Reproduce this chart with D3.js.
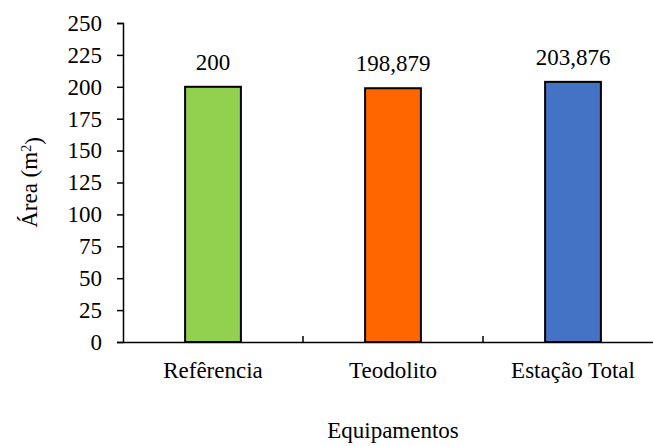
<!DOCTYPE html>
<html>
<head>
<meta charset="utf-8">
<script src="https://cdn.jsdelivr.net/npm/d3@7/dist/d3.min.js"></script>
</head>
<body style="margin:0">
<svg id="chart" width="653" height="446" font-family="Liberation Serif" font-size="23"></svg>
<script>
// Equipment categories and measured areas
const categories = ["Refêrencia", "Teodolito", "Estação Total"];
const areas = [200, 198.879, 203.876];
const areaLabels = ["200", "198,879", "203,876"];
const barColors = ["#92D050", "#FF6600", "#4472C4"];
const yTicks = [0, 25, 50, 75, 100, 125, 150, 175, 200, 225, 250];

const FONT = "Liberation Serif";
const FS = 23;

const svg = d3.select("#chart");

const plotLeft = 123, plotRight = 663, plotTop = 23, plotBottom = 342;
const padInner = 0.69;

const x = d3.scaleBand()
  .domain(categories)
  .range([plotLeft, plotRight])
  .paddingInner(padInner)
  .paddingOuter(padInner / 2);

const y = d3.scaleLinear().domain([0, 250]).range([plotBottom, plotTop]);

function styleText(sel) {
  return sel.attr("font-family", FONT).attr("font-size", FS).attr("fill", "#000");
}

// Y axis
const yAxis = svg.append("g")
  .attr("transform", `translate(${plotLeft},0)`)
  .call(d3.axisLeft(y).tickValues(yTicks).tickSize(6).tickPadding(15));
yAxis.attr("font-family", FONT).attr("font-size", FS);
yAxis.select(".domain").attr("stroke", "#000").attr("stroke-width", 1.5);
yAxis.selectAll(".tick line").attr("stroke", "#000").attr("stroke-width", 1.5);
styleText(yAxis.selectAll(".tick text"));

// Bars
svg.append("g").selectAll("rect")
  .data(categories)
  .join("rect")
  .attr("x", d => x(d))
  .attr("y", (d, i) => y(areas[i]))
  .attr("width", x.bandwidth())
  .attr("height", (d, i) => y(0) - y(areas[i]))
  .attr("fill", (d, i) => barColors[i])
  .attr("stroke", "#000")
  .attr("stroke-width", 2);

// Value labels above bars
styleText(svg.append("g").selectAll("text")
  .data(categories)
  .join("text")
  .attr("x", d => x(d) + x.bandwidth() / 2)
  .attr("y", (d, i) => y(areas[i]) - 17)
  .attr("text-anchor", "middle")
  .text((d, i) => areaLabels[i]));

// X axis: baseline, category labels, and ticks between categories
const xAxis = svg.append("g")
  .attr("transform", `translate(0,${plotBottom})`)
  .call(d3.axisBottom(x).tickSize(0));
xAxis.attr("font-family", FONT).attr("font-size", FS);
xAxis.select(".domain").attr("stroke", "#000").attr("stroke-width", 1.5);
styleText(xAxis.selectAll(".tick text")).attr("dy", null).attr("y", 36);

const step = x.step();
xAxis.selectAll(".sep")
  .data(categories)
  .join("line")
  .attr("class", "sep")
  .attr("x1", d => x(d) + x.bandwidth() + step * padInner / 2)
  .attr("x2", d => x(d) + x.bandwidth() + step * padInner / 2)
  .attr("y1", 0)
  .attr("y2", -6)
  .attr("stroke", "#000")
  .attr("stroke-width", 1.5);

// Axis titles
styleText(svg.append("text")
  .attr("x", (plotLeft + plotRight) / 2)
  .attr("y", 438)
  .attr("text-anchor", "middle")
  .text("Equipamentos"));

const yTitle = styleText(svg.append("text")
  .attr("transform", `translate(37,${(plotTop + plotBottom) / 2}) rotate(-90)`)
  .attr("text-anchor", "middle"));
yTitle.append("tspan").text("Área (m");
yTitle.append("tspan").attr("dy", "-0.45em").attr("font-size", 14).text("2");
yTitle.append("tspan").attr("dy", "0.45em").text(")");
</script>
</body>
</html>
